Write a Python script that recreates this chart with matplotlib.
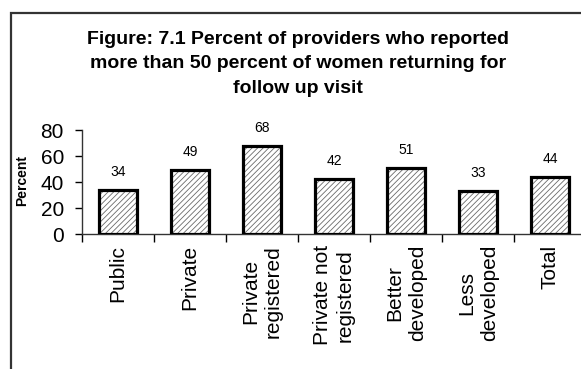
import numpy as np
import matplotlib.pyplot as plt
from matplotlib.patches import Rectangle

plt.rcParams['font.family'] = ['Liberation Sans', 'DejaVu Sans']
plt.rcParams['hatch.linewidth'] = 0.6

categories = ["Public", "Private", "Private\nregistered", "Private not\nregistered",
              "Better\ndeveloped", "Less\ndeveloped", "Total"]
values = [34, 49, 68, 42, 51, 33, 44]
yticks = [0, 20, 40, 60, 80]

title = ("Figure: 7.1 Percent of providers who reported\n"
         "more than 50 percent of women returning for\n"
         "follow up visit")

W, H = 581, 369
fig = plt.figure(figsize=(W / 100, H / 100), dpi=100)

# axes runs off the right edge, like the cropped source chart
ax = fig.add_axes([82 / W, 1 - 234 / H, 504 / W, 104 / H])

x = np.arange(len(values))
# hatch fill first, then a heavy black outline on top
ax.bar(x, values, width=0.52, color='white', edgecolor='#6a6a6a',
       hatch='//////', linewidth=0, zorder=2)
ax.bar(x, values, width=0.52, fill=False, edgecolor='black',
       linewidth=2.3, zorder=3)

for xi, v in zip(x, values):
    ax.annotate(str(v), (xi, v), xytext=(0, 13), textcoords='offset points',
                ha='center', va='center', fontsize=10)

ax.set_xlim(-0.5, len(values) - 0.5)
ax.set_ylim(0, 80)
ax.set_yticks(yticks)
ax.tick_params(axis='y', labelsize=15, length=5, width=1, pad=8)

# category ticks sit between the bars, labels are centred under each bar
ax.set_xticks(np.arange(len(values) + 1) - 0.5)
ax.set_xticklabels([])
ax.set_xticks(x, minor=True)
ax.set_xticklabels(categories, minor=True, rotation=90, fontsize=15,
                   va='top', ha='center', multialignment='center',
                   linespacing=1.25)
ax.tick_params(axis='x', which='major', length=6, width=1)
ax.tick_params(axis='x', which='minor', length=0, pad=8)

for s in ['top', 'right']:
    ax.spines[s].set_visible(False)
for s in ['left', 'bottom']:
    ax.spines[s].set_linewidth(1)
    ax.spines[s].set_color('#333333')

fig.text(298 / W, 1 - 64 / H, title, ha='center', va='center',
         fontsize=14, fontweight='bold', linespacing=1.6)
fig.text(22 / W, 1 - 181 / H, "Percent", rotation=90, ha='center',
         va='center', fontsize=10, fontweight='bold')

# outer chart frame, only left and top edges fall inside the image
fig.patches.append(Rectangle((10.5 / W, -0.2), 1.2, 1.2 - 12.5 / H,
                             transform=fig.transFigure, fill=False,
                             edgecolor='#333333', linewidth=1.6))

fig.savefig("out.png", dpi=100)
